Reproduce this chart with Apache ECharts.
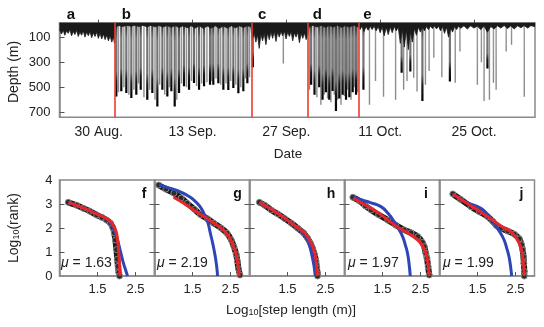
<!DOCTYPE html>
<html>
<head>
<meta charset="utf-8">
<script src="https://cdn.jsdelivr.net/npm/echarts@6/dist/echarts.min.js"></script>
<style>
  html, body { margin: 0; padding: 0; background: #fff; }
  #chart { width: 544px; height: 327px; }
</style>
</head>
<body>
<div id="chart"></div>
<script>
// ---- top panel: dive record (x = days since 24 Aug., y = depth in m) ----
const dateTickDays = [6, 20, 34, 48, 62];
const dateLabels = ['30 Aug.', '13 Sep.', '27 Sep.', '11 Oct.', '25 Oct.'];
const depthTicks = [100, 300, 500, 700];
const boundaryDays = [8.39, 28.84, 37.24, 44.85];
const segmentLetters = ['a', 'b', 'c', 'd', 'e'];

// deep dives with dark bottom phase
const darkDiveDays = [8.63, 9.37, 10.12, 10.87, 11.61, 12.27, 13.25, 14.0, 14.75, 15.5, 16.24, 16.84, 17.34, 17.99,
  18.73, 19.48, 20.22, 20.97, 21.72, 22.61, 23.1, 23.85, 24.6, 25.34, 26.09, 26.84, 27.58, 28.18, 29.0,
  37.7, 38.2, 38.9, 39.4, 39.9, 40.4, 40.9, 41.4, 41.9, 42.4, 42.9, 43.4, 43.9, 44.4,
  45.5, 51.2, 52.5, 54.3, 58.4, 64.0];
const darkDiveDepths = [573, 533, 546, 586, 560, 520, 600, 546, 653, 520, 573, 533, 653, 546,
  493, 520, 467, 520, 493, 480, 480, 469, 520, 522, 506, 549, 533, 469, 340,
  480, 560, 500, 600, 540, 600, 530, 690, 590, 560, 600, 580, 540, 560,
  520, 385, 375, 610, 455, 350];

// lighter grey dives
const lightDiveDays = [8.95, 9.75, 10.5, 11.25, 11.95, 12.75, 13.6, 14.4, 15.1, 15.85, 16.55, 17.65, 18.35, 19.1,
  19.85, 20.6, 21.35, 22.15, 22.85, 23.5, 24.2, 25.0, 25.7, 26.45, 27.2, 27.9, 28.5, 33.55,
  37.45, 38.55, 39.15, 39.65, 40.15, 40.65, 41.15, 41.65, 42.15, 42.65, 43.15, 43.65, 44.15, 44.65,
  46.4, 47.3, 48.5, 50.3, 51.5, 52.0, 53.0, 53.5, 54.75, 55.3, 56.0, 57.2, 59.2, 59.9,
  62.5, 63.1, 63.5, 64.3, 64.9, 65.3, 66.8, 67.6, 69.5];
const lightDiveDepths = [540, 500, 560, 520, 470, 580, 520, 600, 480, 560, 500, 600, 470, 500,
  450, 490, 470, 460, 450, 430, 480, 470, 450, 480, 500, 430, 420, 310,
  520, 580, 640, 560, 590, 620, 560, 600, 640, 570, 520, 600, 500, 540,
  640, 450, 575, 600, 520, 450, 425, 535, 480, 370, 265, 420, 465, 215,
  480, 300, 610, 600, 465, 520, 215, 160, 575];

// dense shallow activity near the surface: [day, lower edge depth]
const surfaceBand = [
  [0.15, 40], [0.45, 75], [0.7, 45], [0.95, 85], [1.2, 50], [1.45, 70], [1.7, 40], [1.95, 90], [2.2, 55], [2.45, 80],
  [2.7, 45], [2.95, 95], [3.2, 60], [3.45, 85], [3.7, 50], [3.95, 100], [4.2, 60], [4.45, 90], [4.7, 55], [4.95, 105],
  [5.2, 65], [5.45, 95], [5.7, 60], [5.95, 110], [6.2, 70], [6.45, 115], [6.7, 75], [6.95, 120], [7.2, 85], [7.45, 130],
  [7.7, 90], [7.95, 140], [8.2, 100], [8.35, 150],
  [8.45, 20], [9.0, 8], [9.6, 15], [10.2, 5], [10.8, 14], [11.4, 5], [12.0, 15], [12.6, 6], [13.2, 18], [13.8, 6],
  [14.4, 18], [15.0, 8], [15.6, 20], [16.2, 8], [16.8, 22], [17.4, 8], [18.0, 24], [18.6, 10], [19.2, 25], [19.8, 10],
  [20.4, 28], [21.0, 10], [21.6, 30], [22.2, 12], [22.8, 28], [23.4, 10], [24.0, 30], [24.6, 12], [25.2, 28], [25.8, 10],
  [26.4, 26], [27.0, 10], [27.6, 24], [28.2, 8], [28.7, 20],
  [28.9, 120], [29.2, 70], [29.45, 140], [29.7, 80], [29.95, 190], [30.2, 75], [30.45, 130], [30.7, 70], [30.95, 160],
  [31.2, 65], [31.45, 120], [31.7, 60], [31.95, 110], [32.2, 55], [32.45, 135], [32.7, 60], [32.95, 100], [33.2, 55],
  [33.45, 90], [33.7, 50], [33.95, 115], [34.2, 60], [34.45, 95], [34.7, 55], [34.95, 130], [35.2, 65], [35.45, 100],
  [35.7, 60], [35.95, 145], [36.2, 70], [36.45, 110], [36.7, 65], [36.95, 120], [37.2, 80],
  [37.4, 18], [38.0, 6], [38.6, 20], [39.2, 6], [39.8, 22], [40.4, 8], [41.0, 20], [41.6, 6], [42.2, 22], [42.8, 8],
  [43.4, 20], [44.0, 6], [44.7, 18],
  [45.0, 40], [45.3, 12], [45.6, 55], [45.9, 15], [46.2, 45], [46.5, 12], [46.8, 40], [47.1, 12], [47.4, 50], [47.7, 15],
  [48.0, 65], [48.3, 18], [48.6, 90], [48.9, 22], [49.2, 80], [49.5, 18], [49.8, 65], [50.1, 15], [50.4, 50], [50.7, 20],
  [51.0, 150], [51.3, 30], [51.6, 180], [51.9, 40], [52.2, 200], [52.5, 50], [52.8, 140], [53.1, 30], [53.4, 85],
  [53.7, 20], [54.0, 60], [54.3, 18], [54.6, 50], [54.9, 15], [55.2, 40], [55.5, 12], [55.8, 32], [56.1, 10], [56.4, 35],
  [56.7, 12], [57.0, 50], [57.3, 15], [57.6, 70], [57.9, 20], [58.2, 100], [58.5, 25], [58.8, 60], [59.1, 15], [59.4, 40],
  [59.7, 12], [60.0, 30], [60.5, 10], [61.0, 35], [61.5, 10], [62.0, 28], [62.5, 12], [63.0, 40], [63.5, 12], [64.0, 60],
  [64.5, 15], [65.0, 35], [65.5, 10], [66.0, 28], [66.5, 8], [67.0, 32], [67.5, 10], [68.0, 35], [68.5, 10], [69.0, 25],
  [69.5, 8], [70.0, 28], [70.5, 8], [71.1, 18]
];

// ---- bottom panels: log10(rank) vs log10(step length) ----
const panelLetters = ['f', 'g', 'h', 'i', 'j'];
const muValues = ['1.63', '2.19', '', '1.97', '1.99'];
const stepTicks = [1.5, 2.5];
const rankTicks = [0, 1, 2, 3, 4];

const obsF = [[0.73, 3.07], [0.95, 2.95], [1.13, 2.82], [1.3, 2.7], [1.48, 2.54], [1.62, 2.44], [1.74, 2.33], [1.84, 2.2],
  [1.9, 2.02], [1.94, 1.8], [1.97, 1.5], [2.0, 1.1], [2.02, 0.7], [2.04, 0.4], [2.06, 0.15], [2.08, 0]];
const obsG = [[0.61, 3.79], [0.8, 3.62], [1.01, 3.45], [1.2, 3.25], [1.36, 3.03], [1.55, 2.78], [1.71, 2.56], [1.9, 2.38],
  [2.06, 2.2], [2.25, 2.0], [2.41, 1.78], [2.52, 1.5], [2.59, 1.22], [2.65, 0.9], [2.68, 0.62], [2.71, 0.3], [2.75, 0.04]];
const obsH = [[0.76, 3.07], [0.9, 2.95], [1.07, 2.75], [1.25, 2.58], [1.42, 2.4], [1.6, 2.2], [1.77, 1.99], [1.92, 1.8],
  [2.03, 1.57], [2.1, 1.37], [2.16, 1.15], [2.21, 0.9], [2.25, 0.62], [2.27, 0.35], [2.29, 0.1], [2.29, 0]];
const obsI = [[0.72, 3.28], [0.9, 3.12], [1.05, 2.92], [1.2, 2.75], [1.4, 2.55], [1.64, 2.33], [1.85, 2.12], [2.07, 1.92],
  [2.25, 1.8], [2.43, 1.64], [2.55, 1.4], [2.6, 1.22], [2.64, 0.95], [2.67, 0.74], [2.7, 0.4], [2.73, 0.04]];
const obsJ = [[0.85, 3.42], [1.05, 3.2], [1.33, 2.89], [1.55, 2.68], [1.77, 2.47], [1.9, 2.28], [2.0, 2.1], [2.12, 1.99],
  [2.3, 1.87], [2.47, 1.74], [2.6, 1.55], [2.66, 1.3], [2.69, 1.08], [2.71, 0.8], [2.72, 0.53], [2.73, 0.2], [2.73, 0]];

const redF = [[0.73, 3.07], [1.1, 2.85], [1.5, 2.57], [1.75, 2.38], [1.9, 2.15], [1.98, 1.9], [2.03, 1.5], [2.06, 0.95], [2.08, 0.4], [2.09, 0]];
const redG = [[1.0, 3.28], [1.3, 3.0], [1.6, 2.68], [1.9, 2.38], [2.1, 2.17], [2.3, 1.93], [2.45, 1.66], [2.56, 1.3], [2.64, 0.95], [2.69, 0.55], [2.72, 0.2], [2.73, 0]];
const redH = [[0.76, 3.07], [1.1, 2.76], [1.45, 2.38], [1.75, 2.03], [1.94, 1.82], [2.08, 1.5], [2.18, 1.15], [2.24, 0.75], [2.27, 0.35], [2.29, 0]];
const redI = [[0.73, 3.24], [1.0, 3.0], [1.4, 2.62], [1.81, 2.13], [2.1, 1.85], [2.43, 1.5], [2.58, 1.18], [2.65, 0.9], [2.7, 0.5], [2.73, 0]];
const redJ = [[0.85, 3.42], [1.2, 3.05], [1.6, 2.65], [1.94, 2.28], [2.2, 2.0], [2.4, 1.82], [2.55, 1.5], [2.64, 1.2], [2.69, 0.8], [2.72, 0.35], [2.73, 0]];

const blueF = [[0.73, 3.07], [1.1, 2.86], [1.5, 2.58], [1.75, 2.36], [1.9, 2.05], [2.0, 1.65], [2.1, 1.05], [2.18, 0.55], [2.25, 0.2], [2.29, 0]];
const blueG = [[0.62, 3.8], [0.9, 3.66], [1.18, 3.51], [1.4, 3.32], [1.53, 3.17], [1.68, 2.93], [1.8, 2.61], [1.9, 2.25], [1.97, 1.78], [2.04, 1.3], [2.1, 0.8], [2.14, 0.35], [2.16, 0]];
const blueH = [[0.76, 3.07], [1.1, 2.76], [1.45, 2.39], [1.75, 2.02], [1.92, 1.78], [2.03, 1.5], [2.1, 1.15], [2.15, 0.8], [2.2, 0.4], [2.23, 0]];
const blueI = [[0.73, 3.28], [1.0, 3.15], [1.2, 3.05], [1.46, 2.89], [1.65, 2.6], [1.81, 2.26], [1.93, 1.95], [2.03, 1.64], [2.1, 1.3], [2.16, 0.94], [2.2, 0.5], [2.23, 0]];
const blueJ = [[0.85, 3.42], [1.2, 3.08], [1.59, 2.82], [1.8, 2.5], [1.94, 2.2], [2.08, 1.85], [2.2, 1.5], [2.28, 1.1], [2.33, 0.8], [2.37, 0.4], [2.4, 0]];

const observed = [obsF, obsG, obsH, obsI, obsJ];
const redFits = [redF, redG, redH, redI, redJ];
const blueFits = [blueF, blueG, blueH, blueI, blueJ];

// ---- chart ----
const FONT = '"Liberation Sans", Arial, Helvetica, sans-serif';
const FRAME = '#8a8a8a';
const TEXT = '#222';

const zip = (xs, ys) => xs.map((x, i) => [x, ys[i]]);

// vertical bar from the surface down to the dive depth
const spikeRender = (stops, w) => (params, api) => {
  const top = api.coord([api.value(0), 0]);
  const bot = api.coord([api.value(0), api.value(1)]);
  return {
    type: 'rect',
    shape: { x: top[0] - w / 2, y: top[1], width: w, height: bot[1] - top[1] },
    style: { fill: new echarts.graphic.LinearGradient(0, 0, 0, 1, stops) }
  };
};

const chart = echarts.init(document.getElementById('chart'));

const grids = [{ left: 59.5, top: 22.7, width: 475.5, height: 94.6, show: true, borderColor: FRAME, borderWidth: 1.5 }];
panelLetters.forEach((_, i) => {
  grids.push({ left: 59.5 + 95 * i, top: 180, width: 95, height: 96, show: true, borderColor: FRAME, borderWidth: 1.5 });
});

const xAxes = [{
  gridIndex: 0, type: 'value', min: 0.15, max: 71.1,
  splitLine: { show: false },
  axisLine: { lineStyle: { color: FRAME, width: 1.5 } },
  axisTick: { inside: true, length: 5, customValues: dateTickDays, lineStyle: { color: '#555' } },
  axisLabel: {
    customValues: dateTickDays, margin: 8, fontSize: 14, color: TEXT, fontFamily: FONT,
    formatter: v => dateLabels[dateTickDays.indexOf(v)]
  }
}];
const yAxes = [{
  gridIndex: 0, type: 'value', inverse: true, min: -15, max: 740,
  splitLine: { show: false },
  axisLine: { lineStyle: { color: FRAME, width: 1.5 } },
  axisTick: { inside: true, length: 5, customValues: depthTicks, lineStyle: { color: '#555' } },
  axisLabel: { customValues: depthTicks, margin: 9, fontSize: 13, color: TEXT, fontFamily: FONT }
}];

panelLetters.forEach((_, i) => {
  xAxes.push({
    gridIndex: i + 1, type: 'value', min: 0.5, max: 3,
    splitLine: { show: false },
    axisLine: { lineStyle: { color: FRAME, width: 1.5 } },
    axisTick: { inside: true, length: 4, customValues: stepTicks, lineStyle: { color: '#555' } },
    axisLabel: { customValues: stepTicks, margin: 7, fontSize: 13, color: TEXT, fontFamily: FONT, formatter: v => v.toFixed(1) }
  });
  yAxes.push({
    gridIndex: i + 1, type: 'value', min: 0, max: 4,
    splitLine: { show: false },
    axisLine: { lineStyle: { color: FRAME, width: 1.5 } },
    axisTick: { inside: true, length: 5, customValues: [1, 2, 3], lineStyle: { color: '#555' } },
    axisLabel: { show: i === 0, customValues: rankTicks, margin: 7, fontSize: 13, color: TEXT, fontFamily: FONT }
  });
});
// short ticks on the right edge of f..i, crossing into the next panel
panelLetters.slice(0, 4).forEach((_, i) => {
  yAxes.push({
    gridIndex: i + 1, type: 'value', min: 0, max: 4, position: 'right',
    splitLine: { show: false },
    axisLine: { show: false },
    axisTick: { inside: true, length: 5, customValues: [1, 2, 3], lineStyle: { color: '#555' } },
    axisLabel: { show: false }
  });
});

const series = [
  {
    type: 'custom', xAxisIndex: 0, yAxisIndex: 0, clip: true, z: 2,
    renderItem: spikeRender([
      { offset: 0, color: '#9a9a9a' }, { offset: 1, color: '#8a8a8a' }
    ], 1.4),
    data: zip(lightDiveDays, lightDiveDepths)
  },
  {
    type: 'custom', xAxisIndex: 0, yAxisIndex: 0, clip: true, z: 3,
    renderItem: spikeRender([
      { offset: 0, color: '#333' }, { offset: 0.2, color: '#777' }, { offset: 0.65, color: '#707070' },
      { offset: 0.8, color: '#1a1a1a' }, { offset: 1, color: '#000' }
    ], 2.2),
    data: zip(darkDiveDays, darkDiveDepths)
  },
  {
    type: 'line', xAxisIndex: 0, yAxisIndex: 0, z: 4, symbol: 'none',
    lineStyle: { color: '#1a1a1a', width: 0.8 },
    areaStyle: { color: '#1a1a1a', opacity: 1, origin: 'start' },
    data: surfaceBand,
    markLine: {
      silent: true, symbol: 'none', label: { show: false },
      lineStyle: { color: '#ee3a2d', width: 1.6, type: 'solid' },
      data: boundaryDays.map(d => ({ xAxis: d }))
    }
  }
];

panelLetters.forEach((_, i) => {
  series.push({
    type: 'line', xAxisIndex: i + 1, yAxisIndex: i + 1, z: 2, smooth: 0.3,
    symbol: 'circle', symbolSize: 6, showSymbol: true,
    lineStyle: { color: '#1b1b1b', width: 6 },
    itemStyle: { color: '#2b2b2b', borderColor: '#8a8a8a', borderWidth: 1 },
    data: observed[i]
  });
  series.push({
    type: 'line', xAxisIndex: i + 1, yAxisIndex: i + 1, z: 3, smooth: true, symbol: 'none',
    lineStyle: { color: '#2e45b8', width: 3 },
    data: blueFits[i]
  });
  series.push({
    type: 'line', xAxisIndex: i + 1, yAxisIndex: i + 1, z: 4, smooth: true, symbol: 'none',
    lineStyle: { color: '#e8262a', width: 3 },
    data: redFits[i]
  });
});

const segLetterX = [66.7, 121.7, 258, 312.7, 363.3];
const panelLetterX = [141.7, 233.3, 326.7, 424, 519.5];
const muX = [61, 157, 0, 348, 443];

const graphics = [
  { type: 'text', x: 14, y: 72, rotation: Math.PI / 2,
    style: { text: 'Depth (m)', fontSize: 14, fontFamily: FONT, fill: TEXT, align: 'center', verticalAlign: 'middle' } },
  { type: 'text', x: 288, y: 154,
    style: { text: 'Date', fontSize: 13.5, fontFamily: FONT, fill: TEXT, align: 'center', verticalAlign: 'middle' } },
  { type: 'text', x: 14, y: 228, rotation: Math.PI / 2,
    style: { text: 'Log{sub|10}(rank)', fontSize: 14, fontFamily: FONT, fill: TEXT, align: 'center', verticalAlign: 'middle',
      rich: { sub: { fontSize: 9, fontFamily: FONT, fill: TEXT, padding: [6, 0, 0, 0] } } } },
  { type: 'text', x: 291, y: 310,
    style: { text: 'Log{sub|10}[step length (m)]', fontSize: 13.5, fontFamily: FONT, fill: TEXT, align: 'center', verticalAlign: 'middle',
      rich: { sub: { fontSize: 9, fontFamily: FONT, fill: TEXT, padding: [6, 0, 0, 0] } } } }
];
segmentLetters.forEach((t, i) => graphics.push({
  type: 'text', x: segLetterX[i], y: 14.5,
  style: { text: t, fontSize: 15, fontWeight: 'bold', fontFamily: FONT, fill: '#111', align: 'left', verticalAlign: 'middle' }
}));
panelLetters.forEach((t, i) => {
  graphics.push({
    type: 'text', x: panelLetterX[i], y: 194.5, z: 10,
    style: { text: t, fontSize: 14, fontWeight: 'bold', fontFamily: FONT, fill: '#111', align: 'left', verticalAlign: 'middle' }
  });
  if (muValues[i]) {
    graphics.push({
      type: 'text', x: muX[i], y: 263.5, z: 10,
      style: { text: '{it|μ} = ' + muValues[i], fontSize: 14, fontFamily: FONT, fill: TEXT, align: 'left', verticalAlign: 'middle',
        rich: { it: { fontSize: 14, fontStyle: 'italic', fontFamily: FONT, fill: TEXT } } }
    });
  }
});

chart.setOption({
  animation: false,
  backgroundColor: '#fff',
  grid: grids,
  xAxis: xAxes,
  yAxis: yAxes,
  series: series,
  graphic: graphics
});
</script>
</body>
</html>
